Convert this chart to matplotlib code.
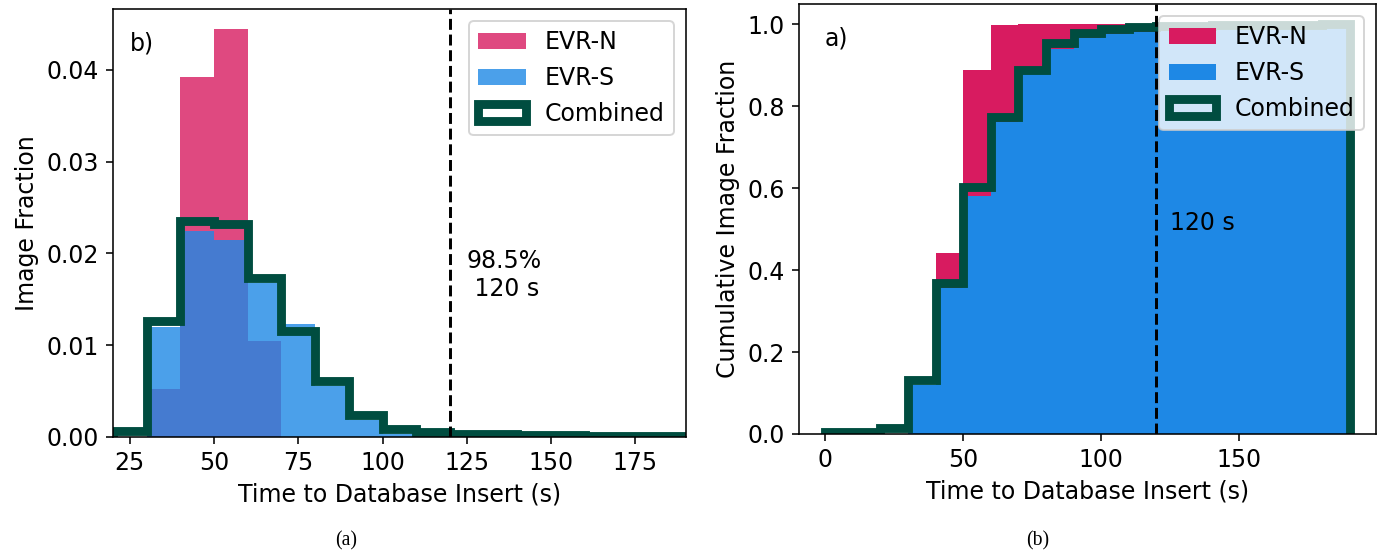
import numpy as np
import matplotlib
matplotlib.use('Agg')
import matplotlib.pyplot as plt

plt.rcParams['font.size'] = 12

# 10 s bins from 0 to 190 s
edges = np.arange(0, 200, 10)
centers = edges[:-1] + 5

# (a) image fraction per second in each bin
frac_n = [0, 0, 0, 0.0052, 0.0392, 0.0444, 0.0105, 0, 0, 0,
          0, 0, 0, 0, 0, 0, 0, 0, 0]
frac_s = [0, 0, 0, 0.0120, 0.0224, 0.0215, 0.0168, 0.0123, 0.0056, 0.0018,
          0.0003, 0, 0, 0, 0, 0, 0, 0, 0]
frac_c = [0.0004, 0.0004, 0.0006, 0.0126, 0.0235, 0.0232, 0.0173, 0.0115, 0.0061, 0.0024,
          0.0009, 0.0005, 0.00035, 0.0003, 0.00025, 0.0002, 0.00015, 0.00012, 0.0001]

# (b) cumulative image fraction
cum_n = [0, 0, 0, 0.052, 0.443, 0.890, 0.998, 1.0, 1.0, 1.0,
         1.0, 1.0, 1.0, 1.0, 1.0, 1.0, 1.0, 1.0, 1.0]
cum_s = [0, 0, 0, 0.120, 0.356, 0.580, 0.762, 0.878, 0.941, 0.966,
         0.977, 0.982, 0.985, 0.987, 0.988, 0.989, 0.990, 0.990, 0.991]
cum_c = [0.004, 0.004, 0.014, 0.1325, 0.368, 0.602, 0.775, 0.890, 0.955, 0.980,
         0.990, 0.994, 0.996, 0.997, 0.998, 0.998, 0.999, 0.999, 1.0]

cut = 120
col_n = '#D81B60'
col_s = '#1E88E5'
col_c = '#004D40'

fig = plt.figure(figsize=(1384/142., 553/142.), dpi=142)

# left panel
ax1 = fig.add_axes([0.0816, 0.2098, 0.4140, 0.7740])
ax1.hist(centers, bins=edges, weights=frac_n, color=col_n, alpha=0.8, label='EVR-N')
ax1.hist(centers, bins=edges, weights=frac_s, color=col_s, alpha=0.8, label='EVR-S')
ax1.hist(centers, bins=edges, weights=frac_c, histtype='step', color=col_c, lw=4.5, label='Combined')
ax1.axvline(cut, color='k', ls='--', lw=1.5)
ax1.text(125, 0.0148, '98.5%\n 120 s', ha='left', va='bottom')
ax1.text(0.03, 0.92, 'b)', transform=ax1.transAxes, va='center')
ax1.set_xlim(20, 190)
ax1.set_xlabel('Time to Database Insert (s)')
ax1.set_ylabel('Image Fraction')
ax1.legend(loc='upper right')

# right panel
ax2 = fig.add_axes([0.5773, 0.2152, 0.4169, 0.7776])
ax2.hist(centers, bins=edges, weights=cum_n, color=col_n, label='EVR-N')
ax2.hist(centers, bins=edges, weights=cum_s, color=col_s, label='EVR-S')
ax2.hist(centers, bins=edges, weights=cum_c, histtype='step', color=col_c, lw=4.5, label='Combined')
ax2.axvline(cut, color='k', ls='--', lw=1.5)
ax2.text(125, 0.485, '120 s', ha='left', va='bottom')
ax2.text(0.045, 0.92, 'a)', transform=ax2.transAxes, va='center')
ax2.set_xlabel('Time to Database Insert (s)')
ax2.set_ylabel('Cumulative Image Fraction')
ax2.legend(loc='upper right')

fig.text(0.25, 0.022, '(a)', family='Liberation Serif', fontsize=10, ha='center', va='center')
fig.text(0.75, 0.022, '(b)', family='Liberation Serif', fontsize=10, ha='center', va='center')

plt.savefig('out.png', dpi=142)
